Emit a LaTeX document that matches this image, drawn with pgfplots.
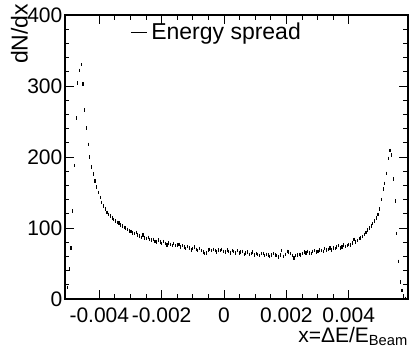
\documentclass[border=0pt]{standalone}
\usepackage{fontspec}
\setmainfont{Liberation Sans}
\usepackage{pgfplots}
\pgfplotsset{compat=1.18}
\usepackage{pgfplotstable}

% x in units of 1e-6 (bin centres), y = dN/dx
\pgfplotstableread{
x y
-5072.5 4
-5017.5 16
-4962.5 42
-4907.5 72
-4852.5 124
-4797.5 188
-4742.5 255
-4687.5 304
-4632.5 322
-4577.5 330
-4522.5 303
-4467.5 266
-4412.5 241
-4357.5 218
-4302.5 200
-4247.5 186
-4192.5 176
-4137.5 166
-4082.5 158
-4027.5 150
-3972.5 143
-3917.5 136
-3862.5 131
-3807.5 127
-3752.5 122
-3697.5 119
-3642.5 117
-3587.5 114
-3532.5 112
-3477.5 110
-3422.5 108
-3367.5 107
-3312.5 104
-3257.5 103
-3202.5 101
-3147.5 100
-3092.5 98
-3037.5 96
-2982.5 95
-2927.5 93
-2872.5 92
-2817.5 94
-2762.5 90
-2707.5 89
-2652.5 87
-2597.5 90
-2542.5 86
-2487.5 85
-2432.5 87
-2377.5 84
-2322.5 83
-2267.5 84
-2212.5 81
-2157.5 80
-2102.5 83
-2047.5 80
-1992.5 78
-1937.5 81
-1882.5 78
-1827.5 76
-1772.5 79
-1717.5 77
-1662.5 75
-1607.5 78
-1552.5 75
-1497.5 76
-1442.5 77
-1387.5 73
-1332.5 75
-1277.5 73
-1222.5 71
-1167.5 74
-1112.5 72
-1057.5 69
-1002.5 71
-947.5 73
-892.5 70
-837.5 68
-782.5 71
-727.5 68
-672.5 66
-617.5 64
-562.5 65
-507.5 69
-452.5 70
-397.5 68
-342.5 70
-287.5 68
-232.5 66
-177.5 69
-122.5 68
-67.5 70
-12.5 67
42.5 66
97.5 69
152.5 67
207.5 65
262.5 68
317.5 67
372.5 65
427.5 68
482.5 65
537.5 66
592.5 67
647.5 63
702.5 65
757.5 66
812.5 63
867.5 64
922.5 66
977.5 62
1032.5 64
1087.5 63
1142.5 61
1197.5 64
1252.5 64
1307.5 61
1362.5 63
1417.5 62
1472.5 60
1527.5 62
1582.5 64
1637.5 62
1692.5 61
1747.5 59
1802.5 62
1857.5 68
1912.5 60
1967.5 63
2022.5 67
2077.5 66
2132.5 64
2187.5 61
2242.5 58
2297.5 61
2352.5 62
2407.5 63
2462.5 62
2517.5 64
2572.5 66
2627.5 65
2682.5 67
2737.5 65
2792.5 64
2847.5 67
2902.5 68
2957.5 66
3012.5 67
3067.5 69
3122.5 68
3177.5 67
3232.5 71
3287.5 69
3342.5 70
3397.5 72
3452.5 69
3507.5 72
3562.5 71
3617.5 73
3672.5 75
3727.5 72
3782.5 73
3837.5 76
3892.5 74
3947.5 75
4002.5 77
4057.5 76
4112.5 79
4167.5 84
4222.5 80
4277.5 82
4332.5 85
4387.5 86
4442.5 88
4497.5 91
4552.5 94
4607.5 97
4662.5 100
4717.5 103
4772.5 106
4827.5 110
4882.5 114
4937.5 119
4992.5 127
5047.5 140
5102.5 155
5157.5 163
5212.5 177
5267.5 198
5322.5 209
5377.5 203
5432.5 169
5487.5 138
5542.5 92
5597.5 53
5652.5 24
5707.5 12
5762.5 4
5817.5 1
}\spread

\begin{document}
\fontsize{21}{25}\selectfont
\begin{tikzpicture}
\begin{axis}[
  at={(0pt,0pt)}, anchor=south west,
  scale only axis, width=343pt, height=284pt,
  xmin=-5100, xmax=5900, ymin=0, ymax=400,
  xtick={-4000,-2000,0,2000,4000},
  xticklabels={-0.004,-0.002,0,0.002,0.004},
  minor x tick num=3,
  ytick={0,100,200,300,400},
  minor y tick num=4,
  tick align=inside,
  major tick length=9pt, minor tick length=4.5pt,
  tick style={line width=0.8pt, black},
  axis line style={line width=1.6pt},
  /pgf/number format/assume math mode=true,
  every tick label/.append style={font=\fontsize{21}{21}\selectfont},
  xticklabel style={inner sep=0pt, yshift=-9pt},
  yticklabel style={inner sep=0pt, xshift=-2.5pt},
  xlabel={x=ΔE/E\textsubscript{Beam}},
  xlabel style={at={(axis description cs:1,0)}, anchor=north east, yshift=-28pt, inner sep=0pt, font=\fontsize{21}{21}\selectfont},
  ylabel={dN/dx},
  ylabel style={at={(axis description cs:-0.108,1.04)}, anchor=south east, inner sep=0pt, font=\fontsize{23}{23}\selectfont},
  legend style={at={(axis description cs:0.19,0.937)}, anchor=west, draw=none, fill=none, inner sep=0pt, font=\fontsize{23}{23}\selectfont, cells={anchor=west}},
  legend image code/.code={\draw[black, line width=0.9pt] (0pt,0pt) -- (16pt,0pt);},
]
\addplot[black, only marks, mark=|, mark size=1.7pt, mark options={line width=1.1pt}] table {\spread};
\addlegendentry{\hspace{2pt}Energy spread}
\end{axis}
\pgfresetboundingbox
\path[use as bounding box] (-65pt,-49pt) rectangle (345pt,299pt);
\end{tikzpicture}
\end{document}
